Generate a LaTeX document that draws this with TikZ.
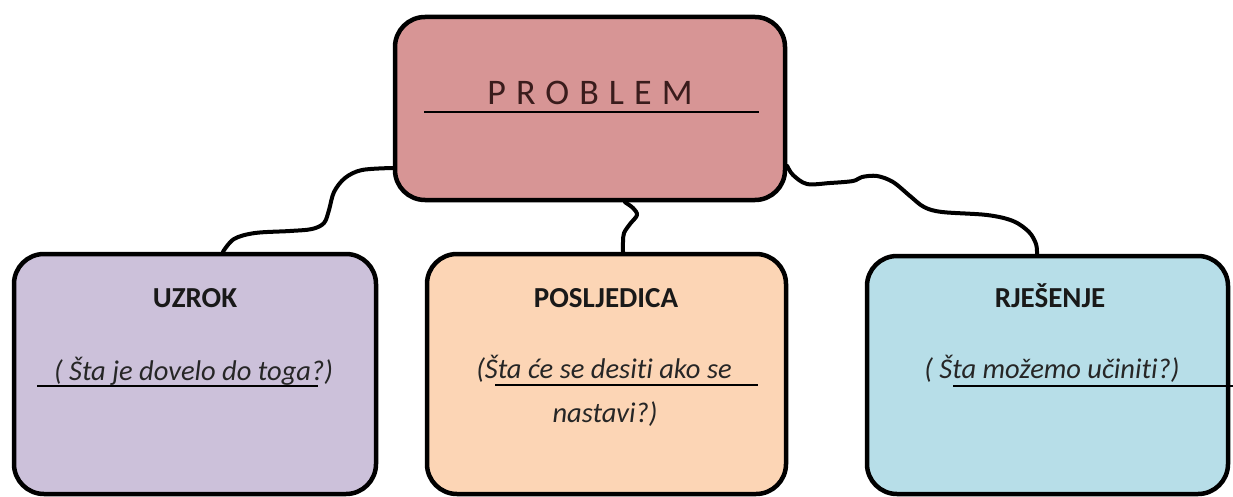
\documentclass[tikz,border=0pt]{standalone}
\usepackage{fontspec}
\setmainfont{Carlito}[Ligatures=NoCommon]
\newfontfamily\spacedfont[LetterSpace=28]{Carlito}
\usepackage{tikz}
\usetikzlibrary{calc,positioning}
\definecolor{probfill}{HTML}{D79595}
\definecolor{uzrokfill}{HTML}{CCC1DA}
\definecolor{posfill}{HTML}{FCD5B5}
\definecolor{rjefill}{HTML}{B7DEE8}
\definecolor{probtext}{HTML}{3A1C1C}
\tikzset{
  card/.style={draw=black,line width=4.5pt,rounded corners=30pt,inner sep=0pt},
  title/.style={anchor=base,font=\fontsize{29}{34}\selectfont\bfseries,text=black!90},
  question/.style={anchor=base,font=\fontsize{28.5}{34}\selectfont\itshape,text=black!85},
  wire/.style={line width=4pt,line cap=round,line join=round},
  rule/.style={line width=1.5pt}
}

\begin{document}
\begin{tikzpicture}[x=1pt,y=-1pt]
\useasboundingbox (0,0) rectangle (1233,497);
\node[card,fill=probfill,minimum width=390pt,minimum height=183pt] (problem) at (590,108.5) {};
\node[card,fill=uzrokfill,minimum width=362pt,minimum height=240pt] (uzrok) at (195,374) {};
\node[card,fill=posfill,minimum width=359pt,minimum height=240pt] (posljedica) at (606.5,374) {};
\node[card,fill=rjefill,minimum width=361pt,minimum height=238pt] (rjesenje) at (1047.5,375) {};

\draw[wire] plot[smooth,tension=0.55] coordinates {(problem.west |- 0,168) (362,170) (345,178) (334,192) (329,210) (324,223) (312,229) (290,231) (255,233) (234,239) ([xshift=28pt]uzrok.north)};
\draw[wire] plot[smooth,tension=0.55] coordinates {([xshift=35pt]problem.south) (633,208) (637,215) (630,224) (624,233) (623,242) ([xshift=16.5pt]posljedica.north)};
\draw[wire] plot[smooth,tension=0.55] coordinates {(problem.east |- 0,166) (793,175) (807,184) (830,183) (853,181) (862,177) (877,176) (893,182) (910,196) (924,207) (942,212) (987,215) (1013,221) (1029,232) (1036,244) ([xshift=-10.5pt]rjesenje.north)};

\node[anchor=base,font=\spacedfont\fontsize{36}{40}\selectfont,text=probtext] (problemname) at (590,105) {PROBLEM};
\draw[rule] (424,112) -- (759,112);

\node[title] (uzrokname) at (195,307) {UZROK};
\node[title] (posname) at (606,307) {POSLJEDICA};
\node[title] (rjename) at (1050,307) {RJEŠENJE};

\node[question] (uzrokq) at (193.5,380) {( Šta je dovelo do toga?)};
\draw[rule] (37,386) -- (318,386);
\node[question] (posq) at (604,378) {(Šta će se desiti ako se};
\node[question] (posq2) at (605,422) {nastavi?)};
\draw[rule] (495,385) -- (758,385);
\node[question] (rjeq) at (1052,378) {( Šta možemo učiniti?)};
\draw[rule] (953,386) -- (1233,386);
\end{tikzpicture}
\end{document}
